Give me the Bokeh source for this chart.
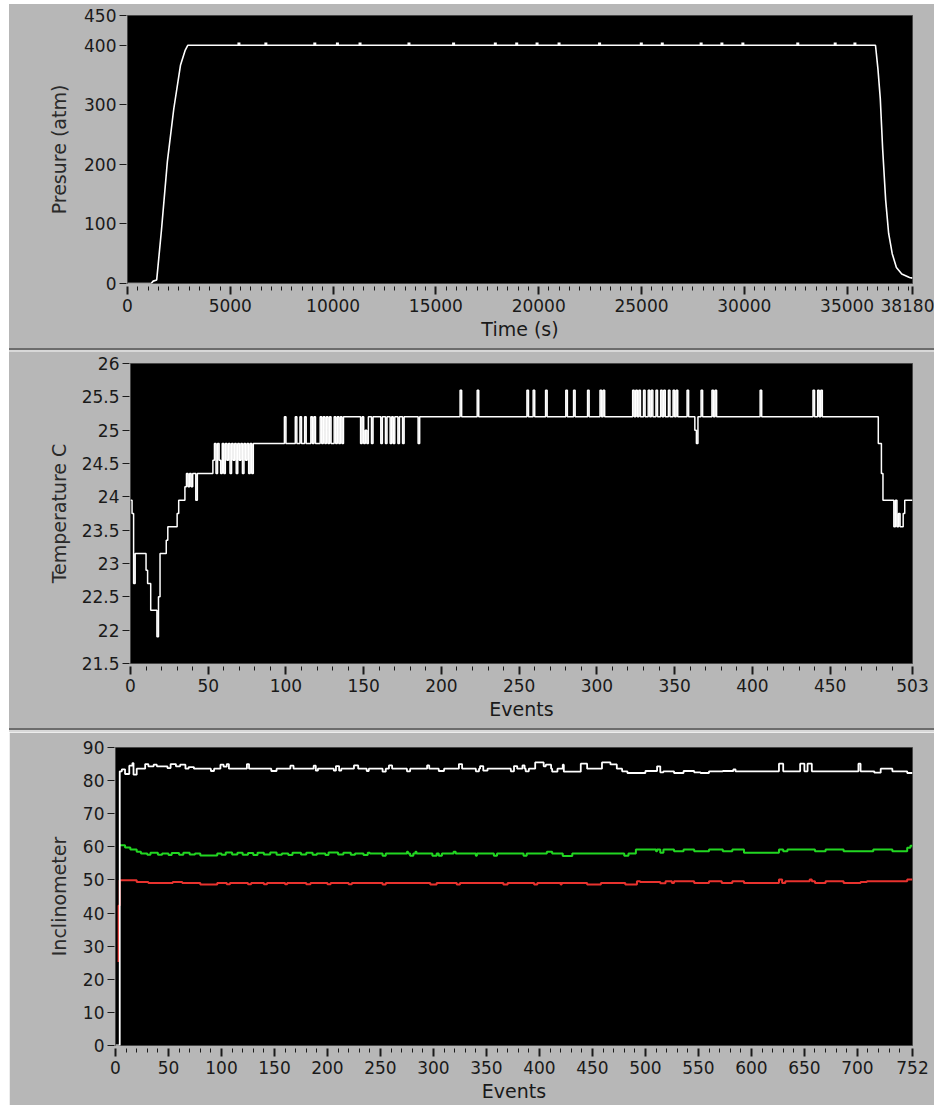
from bokeh.plotting import figure
from bokeh.models import FixedTicker, Div, Range1d, CustomJSTickFormatter
from bokeh.layouts import column, row
from bokeh.embed import file_html
from bokeh.resources import INLINE

GRAY = "#b7b7b7"
FONT = "DejaVu Sans"
INK = "#1a1a1a"

# ---------------- Panel 1: pressure vs time ----------------
pressure_time = [0, 1150, 1250, 1420, 1650, 1940, 2250, 2580, 2810, 2930,
                 36380, 36500, 36614, 36730, 36875, 37020, 37194, 37397, 37658, 38035, 38180]
pressure_atm = [0, 0, 4, 6, 89, 205, 293, 367, 392, 400,
                400, 360, 310, 225, 140, 84, 50, 27, 16, 10, 9]
blip_time = [5420, 6730, 9110, 10210, 11310, 13690, 15860, 17890, 18930, 19920,
             20990, 22960, 24990, 26010, 27900, 28910, 29930, 32600, 34420, 35380]
blip_atm = [402] * len(blip_time)
x1_major = [0, 5000, 10000, 15000, 20000, 25000, 30000, 35000, 38180]
x1_minor = [t for t in range(0, 38181, 500) if t % 5000 != 0]
y1_major = [0, 100, 200, 300, 400, 450]

# ---------------- Panel 2: temperature vs events ----------------
temp_event = [0, 1, 2, 3, 10, 11, 13, 17, 18, 19, 23, 24, 30, 31, 35, 36, 37, 38, 39, 40,
              42, 43, 53, 54, 55, 56, 57, 58, 59, 60, 61, 62, 63, 64, 65, 66, 67, 68, 69, 70,
              71, 72, 73, 74, 75, 76, 77, 78, 79, 99, 100, 106, 107, 109, 110, 112, 113, 116, 117, 118,
              119, 122, 123, 124, 125, 126, 127, 128, 129, 131, 132, 133, 134, 135, 136, 137, 148, 149, 150, 151,
              152, 153, 155, 156, 161, 162, 164, 165, 167, 168, 169, 170, 172, 173, 175, 176, 185, 186, 212, 213,
              223, 224, 255, 256, 259, 260, 267, 268, 280, 281, 285, 286, 294, 295, 302, 303, 304, 305, 323, 324,
              325, 326, 327, 328, 330, 331, 333, 334, 335, 336, 338, 339, 341, 342, 343, 344, 346, 347, 349, 350,
              351, 352, 358, 359, 363, 364, 365, 367, 368, 374, 375, 376, 377, 405, 406, 439, 440, 442, 443, 444,
              445, 481, 483, 484, 491, 492, 493, 494, 495, 497, 498, 503]
temp_value = [23.95, 23.75, 22.7, 23.15, 22.9, 22.7, 22.3, 21.9, 22.5, 23.15, 23.35, 23.55, 23.75, 23.95, 24.15, 24.35, 24.15, 24.35, 24.15, 24.35,
              23.95, 24.35, 24.55, 24.8, 24.35, 24.8, 24.55, 24.35, 24.8, 24.35, 24.8, 24.55, 24.8, 24.35, 24.8, 24.55, 24.8, 24.35, 24.8, 24.55,
              24.8, 24.35, 24.8, 24.55, 24.8, 24.35, 24.8, 24.35, 24.8, 25.2, 24.8, 25.2, 24.8, 25.2, 24.8, 25.2, 24.8, 25.2, 24.8, 25.2,
              24.8, 25.2, 24.8, 25.2, 24.8, 25.2, 24.8, 25.2, 24.8, 25.2, 24.8, 25.2, 24.8, 25.2, 24.8, 25.2, 24.8, 25.2, 24.8, 25.0,
              24.8, 25.2, 24.8, 25.2, 24.8, 25.2, 24.8, 25.2, 24.8, 25.2, 24.8, 25.2, 24.8, 25.2, 24.8, 25.2, 24.8, 25.2, 25.6, 25.2,
              25.6, 25.2, 25.6, 25.2, 25.6, 25.2, 25.6, 25.2, 25.6, 25.2, 25.6, 25.2, 25.6, 25.2, 25.6, 25.2, 25.6, 25.2, 25.6, 25.2,
              25.6, 25.2, 25.6, 25.2, 25.6, 25.2, 25.6, 25.2, 25.6, 25.2, 25.6, 25.2, 25.6, 25.2, 25.6, 25.2, 25.6, 25.2, 25.6, 25.2,
              25.6, 25.2, 25.6, 25.2, 25.0, 24.8, 25.2, 25.6, 25.2, 25.6, 25.2, 25.6, 25.2, 25.6, 25.2, 25.6, 25.2, 25.6, 25.2, 25.6,
              25.2, 24.8, 24.35, 23.95, 23.55, 23.95, 23.55, 23.75, 23.55, 23.75, 23.95, 23.95]
x2_major = [0, 50, 100, 150, 200, 250, 300, 350, 400, 450, 503]
x2_minor = [e for e in range(0, 504, 10) if e % 50 != 0]
y2_major = [21.5, 22, 22.5, 23, 23.5, 24, 24.5, 25, 25.5, 26]

# ---------------- Panel 3: inclinometer vs events ----------------
white_event = [0, 4, 6, 9, 13, 16, 17, 20, 28, 31, 36, 39, 49, 52, 57, 61, 66, 69, 74, 90,
               93, 99, 102, 105, 107, 124, 126, 147, 152, 165, 168, 187, 189, 191, 206, 208, 211, 213, 225, 229,
               237, 239, 252, 255, 258, 261, 275, 278, 294, 296, 305, 310, 324, 327, 340, 343, 344, 347, 351, 373,
               376, 379, 384, 386, 387, 390, 396, 404, 406, 411, 412, 417, 422, 423, 439, 445, 459, 467, 473, 478,
               483, 500, 511, 514, 517, 527, 536, 546, 552, 560, 573, 583, 585, 626, 630, 646, 650, 653, 657, 701,
               703, 716, 722, 733, 747, 752]
white_value = [0.0, 82.8, 83.4, 82.0, 84.5, 85.3, 81.8, 83.6, 85.0, 84.3, 84.8, 84.3, 83.8, 85.0, 84.3, 84.8, 83.6, 84.1, 83.6, 82.9,
               83.6, 84.8, 84.2, 85.0, 83.6, 85.0, 83.6, 82.9, 83.6, 84.5, 83.6, 84.5, 83.0, 83.6, 83.0, 84.4, 83.0, 83.6, 84.6, 83.6,
               82.9, 83.6, 82.7, 83.6, 84.6, 83.6, 82.8, 83.6, 84.6, 83.6, 82.9, 83.6, 85.0, 83.6, 82.8, 83.6, 84.4, 83.0, 83.6, 82.8,
               84.4, 83.6, 84.6, 83.6, 82.8, 83.6, 85.5, 84.3, 84.8, 83.6, 82.7, 83.6, 84.8, 82.7, 85.1, 83.6, 85.5, 84.9, 83.6, 82.8,
               82.3, 82.9, 84.3, 82.5, 82.8, 82.3, 82.9, 82.5, 82.3, 82.8, 82.9, 83.4, 82.8, 85.1, 82.8, 85.1, 82.8, 85.1, 82.8, 85.1,
               82.8, 82.4, 83.6, 82.8, 82.3, 82.3]
green_event = [4, 9, 14, 20, 24, 30, 33, 40, 44, 50, 53, 60, 64, 70, 75, 80, 96, 100, 104, 110,
               115, 120, 125, 130, 134, 140, 146, 152, 157, 163, 167, 175, 180, 186, 190, 198, 201, 210, 215, 222,
               226, 234, 238, 240, 252, 255, 275, 276, 278, 281, 283, 284, 299, 303, 305, 308, 319, 321, 340, 341,
               357, 360, 385, 388, 407, 412, 422, 431, 480, 484, 491, 510, 511, 514, 517, 527, 536, 546, 560, 573,
               582, 593, 626, 630, 634, 660, 670, 687, 715, 733, 747, 750, 752]
green_value = [60.5, 59.8, 59.2, 58.5, 58.0, 57.6, 58.2, 57.6, 58.0, 57.5, 58.1, 57.6, 58.2, 57.7, 58.0, 57.4, 58.0, 57.6, 58.3, 57.7,
               58.2, 57.6, 58.1, 57.5, 58.2, 57.7, 58.3, 57.6, 58.0, 57.5, 58.2, 57.7, 58.2, 57.6, 58.0, 57.5, 58.3, 57.7, 58.2, 57.6,
               58.0, 57.5, 58.2, 58.0, 57.3, 58.0, 58.5, 58.0, 57.3, 58.0, 58.5, 58.0, 57.3, 58.0, 57.3, 58.0, 58.5, 58.0, 57.3, 58.0,
               57.3, 58.0, 57.3, 58.0, 58.5, 58.0, 57.2, 58.0, 57.3, 58.0, 59.2, 58.7, 59.2, 58.2, 59.2, 58.7, 59.2, 58.7, 59.2, 58.7,
               59.2, 58.2, 59.2, 58.7, 59.2, 58.7, 59.2, 58.7, 59.2, 58.7, 59.7, 60.3, 60.3]
red_event = [2, 3, 4, 20, 31, 54, 63, 80, 96, 105, 108, 125, 128, 140, 143, 160, 162, 180, 184, 200,
             203, 220, 223, 252, 255, 297, 303, 322, 325, 366, 370, 395, 398, 420, 421, 445, 458, 481, 492, 495,
             514, 519, 525, 527, 546, 560, 572, 582, 593, 626, 629, 632, 655, 657, 660, 670, 687, 703, 709, 747,
             752]
red_value = [25.5, 42.3, 49.9, 49.4, 49.1, 49.4, 49.1, 48.6, 49.1, 48.7, 49.1, 48.7, 49.1, 48.7, 49.1, 48.7, 49.1, 48.7, 49.1, 48.7,
             49.1, 48.7, 49.1, 48.6, 49.1, 48.6, 49.1, 48.6, 49.1, 48.6, 49.1, 48.6, 49.1, 48.6, 49.1, 48.6, 49.1, 48.6, 49.6, 49.4,
             49.0, 49.6, 49.1, 49.6, 49.1, 49.6, 49.1, 49.6, 49.1, 50.1, 49.1, 49.6, 50.1, 49.6, 49.1, 49.6, 49.1, 49.4, 49.6, 50.1,
             50.1]
x3_major = [0, 50, 100, 150, 200, 250, 300, 350, 400, 450, 500, 550, 600, 650, 700, 752]
x3_minor = [e for e in range(0, 753, 10) if e % 50 != 0]
y3_major = [0, 10, 20, 30, 40, 50, 60, 70, 80, 90]

LEFT_STRIP = 9
COL_W = 934 - LEFT_STRIP
BORDER_L = 106
FMT = CustomJSTickFormatter(code="return String(tick);")


def panel(width, height, top, bottom, xr, yr, xmaj, xmin, ymaj, xlabel, ylabel, ylab_standoff):
    p = figure(width=width, height=height, x_range=Range1d(*xr), y_range=Range1d(*yr),
               output_backend="svg", toolbar_location=None,
               min_border_left=BORDER_L, min_border_right=22,
               min_border_top=top, min_border_bottom=bottom)
    p.background_fill_color = "black"
    p.border_fill_color = GRAY
    p.outline_line_color = "#474747"
    p.outline_line_width = 1
    p.grid.visible = False

    ax = p.xaxis[0]
    ax.ticker = FixedTicker(ticks=xmaj, minor_ticks=xmin)
    ax.formatter = FMT
    ax.axis_line_color = None
    ax.major_tick_in = -3
    ax.major_tick_out = 11
    ax.minor_tick_in = -3
    ax.minor_tick_out = 7
    ax.major_tick_line_color = INK
    ax.minor_tick_line_color = INK
    ax.major_tick_line_width = 2
    ax.minor_tick_line_width = 1
    ax.major_label_text_font = FONT
    ax.major_label_text_font_size = "17px"
    ax.major_label_text_color = INK
    ax.major_label_standoff = 4
    ax.axis_label = xlabel
    ax.axis_label_text_font = FONT
    ax.axis_label_text_font_size = "19px"
    ax.axis_label_text_font_style = "normal"
    ax.axis_label_text_color = INK
    ax.axis_label_standoff = 3

    ay = p.yaxis[0]
    ay.ticker = FixedTicker(ticks=ymaj, minor_ticks=[])
    ay.formatter = FMT
    ay.axis_line_color = None
    ay.major_tick_in = -1
    ay.major_tick_out = 8
    ay.minor_tick_out = 0
    ay.minor_tick_in = 0
    ay.major_tick_line_color = INK
    ay.major_tick_line_width = 1
    ay.major_label_text_font = FONT
    ay.major_label_text_font_size = "17px"
    ay.major_label_text_color = INK
    ay.major_label_standoff = 3
    ay.axis_label = ylabel
    ay.axis_label_text_font = FONT
    ay.axis_label_text_font_size = "19px"
    ay.axis_label_text_font_style = "normal"
    ay.axis_label_text_color = "#2a2a2a"
    ay.axis_label_standoff = ylab_standoff
    return p


SHIFT1, SHIFT2 = 12, 15
H1, H2, H3 = 344, 376, 373

p1 = panel(COL_W - SHIFT1, H1, 11, 65, (0, 38180), (0, 450), x1_major, x1_minor, y1_major,
           "Time (s)", "Presure (atm)", 11)
p1.line(pressure_time, pressure_atm, line_color="white", line_width=1.6)
p1.scatter(blip_time, blip_atm, marker="square", size=3, fill_color="white", line_color=None)

p2 = panel(COL_W - SHIFT2, H2, 11, 65, (0, 503), (21.5, 26), x2_major, x2_minor, y2_major,
           "Events", "Temperature C", 9)
p2.step(temp_event, temp_value, mode="after", line_color="white", line_width=1.5)

p3 = panel(COL_W, H3, 15, 60, (0, 752), (0, 90), x3_major, x3_minor, y3_major,
           "Events", "Inclinometer", 10)
p3.step(red_event, red_value, mode="after", line_color="#e8322e", line_width=2)
p3.step(green_event, green_value, mode="after", line_color="#22d622", line_width=2)
p3.step(white_event, white_value, mode="after", line_color="white", line_width=1.8)


def gray_block(w, h):
    return Div(text="", width=w, height=h, margin=0,
               styles={"background-color": GRAY, "border": "none", "outline": "none"})


def gray_row(*children):
    return row(*children, spacing=0, styles={"background-color": GRAY})


def sep():
    return Div(text="", width=COL_W, height=4, margin=0,
               styles={"background-color": "#d8d8d8", "border-top": "2px solid #6c6c6c",
                       "box-sizing": "border-box"})


top_strip = Div(text="", width=COL_W, height=4, margin=0, styles={"background-color": "white"})
left_strip = Div(text="", width=LEFT_STRIP, height=1105, margin=0, styles={"background-color": "white"})

col = column(top_strip,
             gray_row(gray_block(SHIFT1, H1), p1),
             sep(),
             gray_row(gray_block(SHIFT2, H2), p2),
             sep(),
             p3, spacing=0)
layout = row(left_strip, col, spacing=0)
open("out.html", "w").write(file_html(layout, INLINE))
